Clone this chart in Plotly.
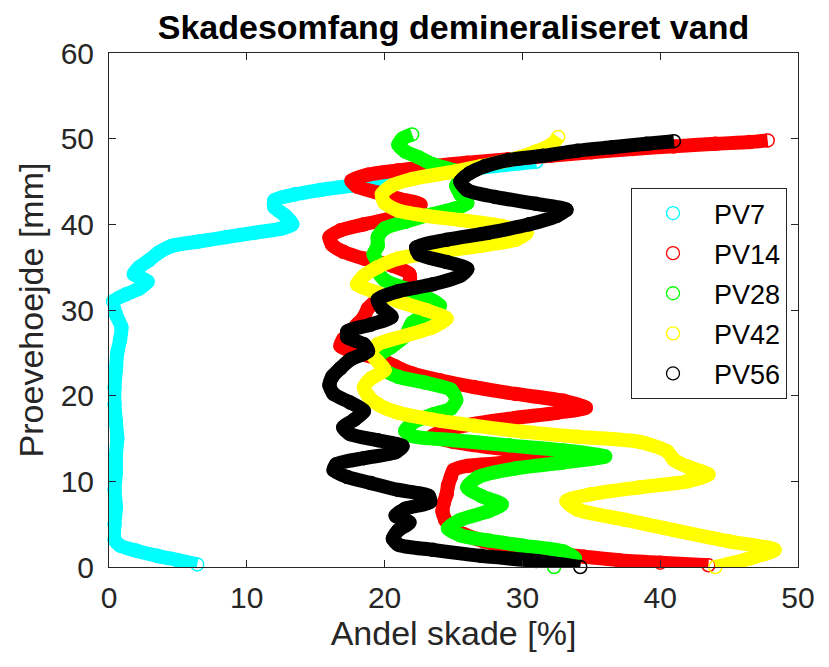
import plotly.graph_objects as go

# ---------------- data ----------------
series_names = ["PV7", "PV14", "PV28", "PV42", "PV56"]
series_colors = ["#00FFFF", "#FF0000", "#00FF00", "#FFFF00", "#000000"]

pv7_y = [0.3, 0.8, 1.3, 1.9, 2.5, 3.2, 5, 7, 9, 11, 13, 15, 17, 19, 21, 23, 25, 26.5, 28, 29.5,
         31.0, 31.8, 32.5, 33.3, 34.2, 35.0, 35.8, 36.7, 37.5, 38.0, 38.5, 39.0, 39.5, 40.0, 41.0,
         42.0, 42.8, 43.5, 44.0, 44.5, 45.0, 45.6, 46.2, 46.8, 47.3]
pv7_x = [6.4, 5.0, 3.5, 2.0, 0.8, 0.4, 0.4, 0.5, 0.4, 0.5, 0.5, 0.6, 0.5, 0.4, 0.4, 0.5, 0.6, 0.8, 0.9, 0.5,
         0.3, 1.2, 2.2, 2.8, 1.8, 2.2, 2.9, 3.6, 4.6, 6.5, 8.5, 10.5, 12.5, 13.3, 12.8,
         12.0, 12.0, 13.5, 15.3, 17.5, 19.5, 22.0, 25.0, 28.0, 31.0]

pv14_y = [0.2, 0.5, 0.8, 1.2, 1.7, 2.3, 3.0, 3.8, 4.6, 5.5, 6.5, 7.5, 8.5, 9.5, 10.5, 11.3, 11.8, 12.2,
          12.7, 13.4, 14.0, 14.6, 15.3, 16.0, 16.7, 17.4, 18.0, 18.6, 19.4, 20.2, 21.0, 21.8, 22.6,
          23.4, 24.2, 25.0, 25.8, 26.6, 27.4, 28.3, 29.2, 30.2, 31.2, 32.2, 33.2, 34.2, 35.2, 36.0,
          36.8, 37.6, 38.5, 39.3, 40.0, 40.7, 41.5, 42.3, 43.0, 43.7, 44.4, 45.1, 45.8, 46.3, 46.8,
          47.2, 47.6, 48.0, 48.4, 48.8, 49.1, 49.4, 49.6, 49.8]
pv14_x = [43.5, 40.0, 37.0, 34.5, 31.5, 29.0, 27.2, 25.8, 24.8, 24.4, 24.2, 24.3, 24.5, 24.6, 24.8, 25.0, 26.0, 29.0,
          32.5, 30.5, 27.5, 25.0, 23.5, 24.5, 26.5, 29.5, 32.5, 34.6, 33.0, 29.5, 26.5, 24.0, 22.0,
          20.8, 19.8, 18.0, 16.8, 17.0, 17.5, 18.0, 18.5, 18.8, 19.5, 20.8, 21.8, 21.8, 20.5, 18.5,
          17.0, 16.2, 16.0, 16.8, 18.5, 20.5, 22.2, 22.6, 21.0, 19.5, 18.0, 17.6, 18.8, 21.0, 23.5,
          26.0, 29.0, 32.0, 35.0, 38.0, 41.0, 44.0, 46.5, 47.8]

pv28_y = [0.0, 1.0, 1.8, 2.5, 3.1, 3.7, 4.5, 5.5, 6.5, 7.3, 8.3, 9.3, 10.5, 11.5, 12.2, 12.9, 13.6, 14.2,
          14.8, 15.3, 15.9, 16.8, 17.8, 18.5, 19.5, 20.7, 21.5, 22.2, 23.0, 24.5, 25.7, 27.0, 28.5,
          29.5, 30.5, 31.5, 32.5, 33.5, 34.5, 35.5, 36.5, 37.5, 38.5, 39.5, 40.3, 41.0, 41.8, 42.5,
          43.5, 44.5, 45.5, 46.3, 47.0, 47.8, 48.5, 49.3, 50.0, 50.5]
pv28_x = [32.3, 33.8, 33.0, 30.0, 27.5, 25.5, 24.6, 25.5, 27.5, 28.5, 27.0, 26.0, 26.8, 29.5, 33.0, 36.0, 33.0, 29.0,
          25.0, 22.0, 21.5, 22.0, 23.5, 24.8, 25.2, 24.8, 23.0, 21.0, 20.0, 19.5, 20.5, 21.5, 22.0,
          23.0, 24.0, 23.0, 21.5, 20.0, 19.5, 19.5, 19.2, 19.5, 19.5, 20.0, 21.5, 23.0, 25.0, 26.0,
          25.5, 25.2, 25.5, 25.0, 23.5, 22.5, 21.5, 21.0, 21.3, 22.0]

pv42_y = [0.0, 1.0, 2.0, 3.0, 4.3, 5.5, 6.7, 7.7, 8.5, 9.3, 10.0, 10.8, 11.7, 12.5, 13.5, 14.6, 15.2, 15.8,
          16.5, 17.2, 18.0, 19.0, 20.0, 21.0, 22.0, 23.0, 24.0, 25.0, 26.0, 27.0, 28.0, 29.0, 30.0,
          31.0, 32.0, 33.0, 34.0, 35.0, 36.0, 36.8, 37.5, 38.2, 39.0, 39.8, 40.5, 41.0, 41.6, 42.5,
          43.5, 44.5, 45.3, 46.0, 46.8, 47.6, 48.5, 49.4, 50.2]
pv42_x = [44.0, 46.5, 48.3, 45.0, 41.0, 37.5, 34.0, 33.2, 35.0, 38.5, 42.0, 43.5, 42.0, 41.0, 40.5, 38.5, 34.0, 30.0,
          26.5, 23.5, 21.0, 19.5, 18.8, 18.5, 19.0, 20.0, 19.5, 19.0, 19.5, 21.5, 23.5, 24.5, 23.0,
          21.0, 19.5, 18.0, 18.5, 19.5, 21.0, 24.0, 27.0, 29.5, 30.3, 28.5, 25.5, 23.0, 21.0, 20.0,
          19.8, 20.5, 22.0, 24.5, 27.0, 29.3, 31.0, 32.2, 32.6]

pv56_y = [0.0, 0.7, 1.3, 2.0, 2.6, 3.3, 4.3, 5.2, 6.0, 6.8, 7.6, 8.3, 9.0, 9.8, 10.5, 11.3, 12.0, 12.7,
          13.4, 14.1, 14.8, 15.5, 16.3, 17.2, 18.2, 19.2, 20.2, 21.2, 22.2, 23.2, 24.2, 25.2, 26.0,
          26.8, 27.5, 28.3, 29.2, 30.2, 31.2, 32.2, 33.0, 34.0, 34.8, 35.6, 36.5, 37.3, 38.2, 39.0,
          40.0, 41.0, 41.7, 42.4, 43.2, 44.0, 45.0, 46.0, 46.8, 47.5, 48.0, 48.6, 49.0, 49.4, 49.7]
pv56_x = [34.2, 31.0, 27.0, 23.5, 21.0, 20.6, 21.0, 21.8, 20.8, 21.5, 23.3, 23.2, 21.0, 19.0, 17.3, 16.3, 16.5, 18.5,
          20.8, 21.3, 19.5, 17.5, 17.0, 17.8, 18.5, 17.5, 16.3, 16.0, 16.2, 16.8, 17.5, 18.8, 18.5,
          17.3, 17.3, 19.0, 20.5, 19.8, 19.5, 21.0, 23.5, 25.5, 26.0, 24.5, 22.5, 22.3, 24.5, 27.5,
          30.5, 32.5, 33.2, 31.0, 28.0, 26.0, 25.5, 26.2, 27.3, 29.0, 31.5, 34.0, 36.5, 39.0, 41.0]

x_ticks = [0, 10, 20, 30, 40, 50]
y_ticks = [0, 10, 20, 30, 40, 50, 60]

title_text = "Skadesomfang demineraliseret vand"
x_title = "Andel skade [%]"
y_title = "Proevehoejde [mm]"

xs = [pv7_x, pv14_x, pv28_x, pv42_x, pv56_x]
ys = [pv7_y, pv14_y, pv28_y, pv42_y, pv56_y]

FONT = "Liberation Sans, Arial, Helvetica, sans-serif"
AX = "#262626"

fig = go.Figure()
for name, col, x, y in zip(series_names, series_colors, xs, ys):
    fig.add_trace(go.Scatter(
        x=x, y=y, mode="lines+markers", name=name, showlegend=False,
        line=dict(color=col, width=14, shape="spline", smoothing=0.7),
        marker=dict(symbol="circle-open", size=13, color=col, line=dict(width=1.5, color=col)),
        cliponaxis=False,
    ))
# legend entries (markers only, as in the reference legend)
for name, col in zip(series_names, series_colors):
    fig.add_trace(go.Scatter(
        x=[None], y=[None], mode="markers", name=name, legendgroup=name,
        marker=dict(symbol="circle-open", size=13, color=col, line=dict(width=1.3, color=col)),
    ))

fig.update_layout(
    width=829, height=667,
    margin=dict(l=109, r=31, t=53, b=100, autoexpand=False),
    paper_bgcolor="white", plot_bgcolor="white",
    font=dict(family=FONT, color=AX),
    title=dict(text="<b>" + title_text + "</b>", x=0.5, xref="paper", xanchor="center",
               y=1 - 27 / 667, yref="container", yanchor="middle",
               font=dict(size=34, color="#000000", family=FONT)),
    legend=dict(x=(631 - 109) / 689, y=(567 - 188) / 514, xanchor="left", yanchor="top",
                bgcolor="white", bordercolor=AX, borderwidth=1,
                font=dict(size=27, color="#000000", family=FONT),
                itemwidth=72, tracegroupgap=2, traceorder="grouped"),
    xaxis=dict(range=[0, 50], tickvals=x_ticks, ticks="inside", ticklen=7, tickcolor=AX,
               showline=True, linecolor=AX, linewidth=1, mirror="ticks", showgrid=False, zeroline=False,
               tickfont=dict(size=30, color=AX), ticklabelstandoff=4,
               title=dict(text=x_title, font=dict(size=34, color=AX), standoff=8)),
    yaxis=dict(range=[0, 60], tickvals=y_ticks, ticks="inside", ticklen=7, tickcolor=AX,
               showline=True, linecolor=AX, linewidth=1, mirror="ticks", showgrid=False, zeroline=False,
               tickfont=dict(size=30, color=AX), ticklabelstandoff=8,
               title=dict(text=y_title, font=dict(size=34, color=AX), standoff=6)),
)

fig.write_html("out.html")
